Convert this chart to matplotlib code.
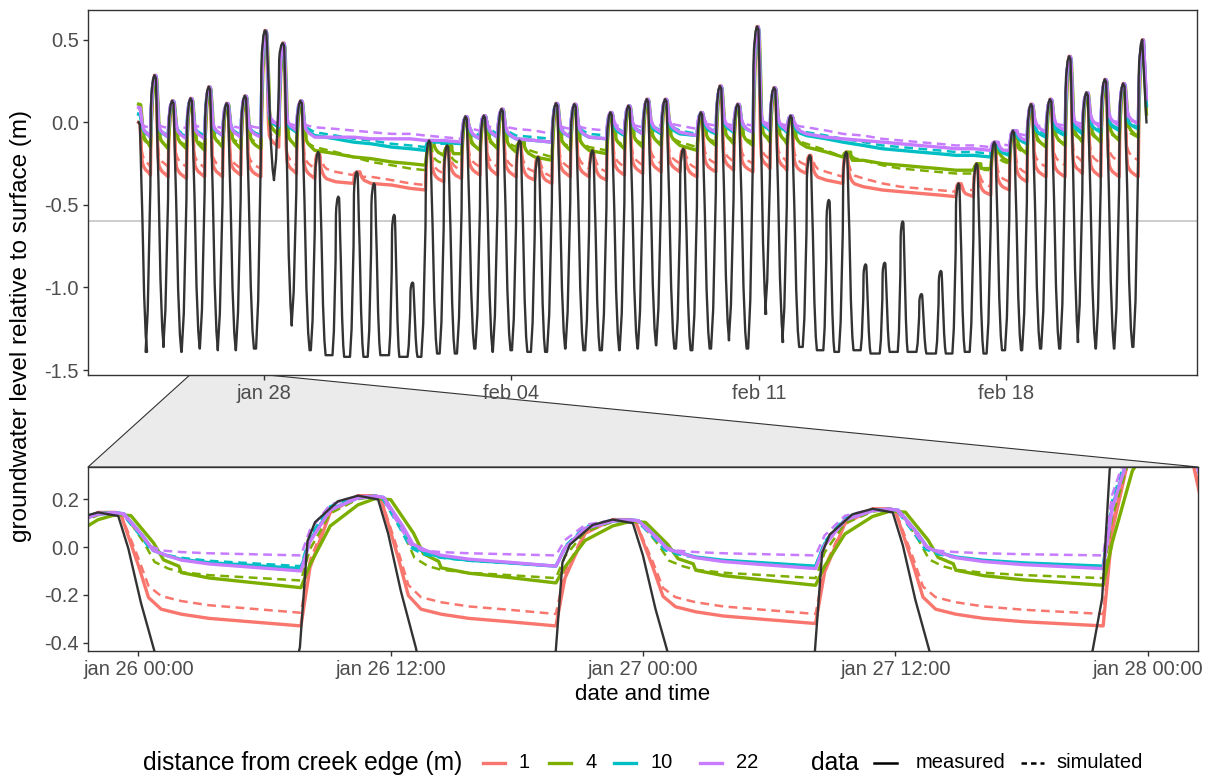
import matplotlib.pyplot as plt
from matplotlib.patches import Polygon

plt.rcParams["font.family"] = ["Liberation Sans", "DejaVu Sans"]

# creek water level (measured, black line)
# time of each high water in days after jan 28 00:00, the peak level and the
# trough that follows it (m relative to surface). first entry = start of record
peak_t = [-3.55, -3.10, -2.60, -2.08, -1.565, -1.06, -0.545, 0.025, 0.53, 1.03,
          1.53, 2.10, 2.62, 3.11, 3.68, 4.20, 4.67, 5.18, 5.70, 6.22,
          6.72, 7.23, 7.75, 8.26, 8.78, 9.29, 9.80, 10.31, 10.83, 11.35,
          11.86, 12.36, 12.90, 13.40, 13.95, 14.43, 14.90, 15.44, 15.98, 16.47,
          17.02, 17.56, 18.07, 18.60, 19.15, 19.65, 20.16, 20.66, 21.19, 21.70,
          22.24, 22.78, 23.27, 23.79, 24.31, 24.85]
peak_v = [0.00, 0.285, 0.13, 0.145, 0.215, 0.115, 0.16, 0.556, 0.48, 0.13,
          -0.18, -0.45, -0.30, -0.37, -0.56, -0.97, -0.11, -0.14, 0.035, 0.04,
          0.08, -0.11, -0.21, 0.115, 0.11, -0.17, 0.06, 0.10, 0.14, 0.14,
          -0.16, 0.06, 0.22, 0.11, 0.58, 0.21, 0.04, -0.20, -0.47, -0.18,
          -0.86, -0.85, -0.60, -1.04, -0.90, -0.37, -0.25, -0.12, -0.05, 0.11,
          0.14, 0.40, 0.18, 0.26, 0.235, 0.50]
low_v = [-1.39, -1.36, -1.39, -1.37, -1.38, -1.38, -1.37, -0.35, -1.23, -1.38,
         -1.41, -1.42, -1.42, -1.41, -1.42, -1.42, -1.40, -1.40, -1.37, -1.39,
         -1.38, -1.39, -1.39, -1.37, -1.38, -1.38, -1.38, -1.37, -1.35, -1.37,
         -1.38, -1.37, -1.32, -1.37, -1.16, -1.33, -1.36, -1.38, -1.39, -1.38,
         -1.40, -1.39, -1.39, -1.40, -1.40, -1.39, -1.40, -1.38, -1.38, -1.37,
         -1.37, -1.33, -1.37, -1.37, -1.36]
end_t = 24.97
end_v = 0.0
surface_line = -0.6

# groundwater: level reached just before the next flooding tide, per distance
distances = ["1", "4", "10", "22"]
colors = ["#F8766D", "#7CAE00", "#00BFC4", "#C77CFF"]

floor_meas_1 = [-0.32, -0.33, -0.34, -0.33, -0.33, -0.32, -0.33, -0.15, -0.31, -0.34,
                -0.36, -0.37, -0.37, -0.38, -0.40, -0.41, -0.36, -0.34, -0.32, -0.32,
                -0.33, -0.35, -0.37, -0.33, -0.33, -0.35, -0.32, -0.31, -0.30, -0.30,
                -0.33, -0.30, -0.29, -0.30, -0.28, -0.29, -0.31, -0.35, -0.37, -0.39,
                -0.41, -0.42, -0.43, -0.44, -0.45, -0.45, -0.44, -0.41, -0.36, -0.33,
                -0.33, -0.31, -0.33, -0.33, -0.33]
floor_meas_4 = [-0.15, -0.16, -0.16, -0.17, -0.15, -0.16, -0.16, -0.08, -0.15, -0.17,
                -0.19, -0.21, -0.22, -0.24, -0.25, -0.26, -0.20, -0.19, -0.17, -0.16,
                -0.18, -0.21, -0.23, -0.17, -0.17, -0.19, -0.16, -0.15, -0.14, -0.14,
                -0.17, -0.14, -0.13, -0.14, -0.12, -0.13, -0.15, -0.18, -0.21, -0.23,
                -0.25, -0.26, -0.27, -0.28, -0.29, -0.29, -0.28, -0.24, -0.19, -0.15,
                -0.14, -0.12, -0.12, -0.11, -0.09]
floor_meas_10 = [-0.09, -0.09, -0.09, -0.09, -0.08, -0.08, -0.08, -0.03, -0.06, -0.08,
                 -0.10, -0.12, -0.13, -0.15, -0.16, -0.17, -0.12, -0.13, -0.10, -0.09,
                 -0.10, -0.11, -0.12, -0.09, -0.09, -0.10, -0.08, -0.07, -0.07, -0.07,
                 -0.08, -0.07, -0.06, -0.06, -0.05, -0.06, -0.08, -0.10, -0.12, -0.14,
                 -0.16, -0.17, -0.18, -0.19, -0.20, -0.20, -0.21, -0.20, -0.13, -0.09,
                 -0.08, -0.07, -0.06, -0.05, -0.04]
floor_meas_22 = [-0.09, -0.09, -0.10, -0.10, -0.08, -0.09, -0.09, -0.02, -0.05, -0.09,
                 -0.09, -0.09, -0.10, -0.10, -0.10, -0.11, -0.11, -0.12, -0.10, -0.09,
                 -0.10, -0.11, -0.12, -0.09, -0.09, -0.10, -0.07, -0.07, -0.06, -0.06,
                 -0.08, -0.06, -0.05, -0.06, -0.04, -0.05, -0.07, -0.09, -0.10, -0.11,
                 -0.12, -0.13, -0.14, -0.15, -0.16, -0.16, -0.17, -0.17, -0.11, -0.06,
                 -0.05, -0.04, -0.03, -0.02, -0.01]
floor_sim_1 = [-0.27, -0.27, -0.27, -0.275, -0.28, -0.28, -0.28, -0.12, -0.26, -0.28,
               -0.30, -0.32, -0.33, -0.35, -0.37, -0.38, -0.31, -0.29, -0.27, -0.27,
               -0.28, -0.30, -0.33, -0.28, -0.28, -0.30, -0.27, -0.26, -0.25, -0.25,
               -0.28, -0.25, -0.24, -0.25, -0.23, -0.24, -0.26, -0.30, -0.33, -0.34,
               -0.37, -0.39, -0.40, -0.41, -0.42, -0.41, -0.39, -0.36, -0.31, -0.27,
               -0.26, -0.24, -0.25, -0.24, -0.23]
floor_sim_4 = [-0.14, -0.14, -0.14, -0.14, -0.13, -0.13, -0.13, -0.07, -0.13, -0.15,
               -0.18, -0.21, -0.24, -0.26, -0.28, -0.29, -0.25, -0.25, -0.16, -0.15,
               -0.15, -0.18, -0.21, -0.15, -0.15, -0.17, -0.14, -0.13, -0.12, -0.12,
               -0.15, -0.12, -0.11, -0.12, -0.10, -0.11, -0.13, -0.17, -0.21, -0.23,
               -0.26, -0.28, -0.29, -0.30, -0.31, -0.31, -0.29, -0.25, -0.19, -0.14,
               -0.13, -0.11, -0.11, -0.10, -0.09]
floor_sim_10 = [-0.08, -0.08, -0.08, -0.08, -0.08, -0.08, -0.08, -0.03, -0.05, -0.06,
                -0.08, -0.10, -0.11, -0.13, -0.14, -0.15, -0.13, -0.13, -0.08, -0.07,
                -0.08, -0.09, -0.10, -0.07, -0.07, -0.08, -0.06, -0.06, -0.05, -0.05,
                -0.07, -0.05, -0.05, -0.05, -0.04, -0.05, -0.06, -0.08, -0.10, -0.12,
                -0.14, -0.15, -0.16, -0.17, -0.18, -0.18, -0.19, -0.18, -0.12, -0.07,
                -0.06, -0.05, -0.04, -0.04, -0.03]
floor_sim_22 = [-0.035, -0.035, -0.035, -0.035, -0.035, -0.035, -0.035, -0.01, -0.02, -0.03,
                -0.04, -0.05, -0.06, -0.07, -0.07, -0.08, -0.09, -0.10, -0.05, -0.04,
                -0.04, -0.05, -0.07, -0.04, -0.04, -0.05, -0.03, -0.03, -0.02, -0.02,
                -0.04, -0.02, -0.02, -0.02, -0.01, -0.02, -0.03, -0.05, -0.07, -0.08,
                -0.10, -0.11, -0.12, -0.13, -0.14, -0.14, -0.15, -0.14, -0.08, -0.03,
                -0.02, -0.01, -0.01, 0.00, 0.00]

meas_floors = [floor_meas_1, floor_meas_4, floor_meas_10, floor_meas_22]
sim_floors = [floor_sim_1, floor_sim_4, floor_sim_10, floor_sim_22]
meas_start = [0.00, 0.11, 0.05, 0.09]
sim_start = [0.00, 0.08, 0.05, 0.08]
meas_end = [0.10, 0.05, 0.10, 0.14]
sim_end = [0.12, 0.08, 0.12, 0.15]
# drop right after the creek falls dry, and how slowly the well follows the creek
meas_step = [0.07, 0.09, 0.055, 0.065]
sim_step = [0.07, 0.05, 0.05, 0.02]
meas_lag = [0.0, 1.0, 0.3, 0.3]
sim_lag = [0.0, 0.4, 0.1, 0.1]

top_ticks = [0, 7, 14, 21]
top_labels = ["jan 28", "feb 04", "feb 11", "feb 18"]
bot_ticks = [-2, -1.5, -1, -0.5, 0]
bot_labels = ["jan 26 00:00", "jan 26 12:00", "jan 27 00:00", "jan 27 12:00", "jan 28 00:00"]
top_yticks = [-1.5, -1.0, -0.5, 0.0, 0.5]
bot_yticks = [-0.4, -0.2, 0.0, 0.2]
zoom_x = (-2.1, 0.1)


def tide_width(i):
    # spring tides are broad, small neap tides are narrow spikes
    r = peak_v[i] - low_v[min(i, len(low_v) - 1)]
    if i > 0:
        r = max(r, peak_v[i] - low_v[i - 1])
    return min(1.0, max(0.55, r / 1.5))


def creek_line():
    ts, vs = [], []
    n = len(peak_t)
    for i in range(n):
        tc, vp = peak_t[i], peak_v[i]
        w = tide_width(i)
        if i > 0:
            lo = low_v[i - 1]
            r = vp - lo
            ts += [tc - 0.25 * w, tc - 0.19 * w, tc - 0.115 * w, tc - 0.10 * w, tc - 0.085 * w, tc - 0.04 * w]
            vs += [lo, lo + 0.15 * r, lo + 0.6 * r, vp - 0.12 * r, vp - 0.07 * r, vp - 0.015 * r]
        ts.append(tc)
        vs.append(vp)
        if i < n - 1:
            lo = low_v[i]
            r = vp - lo
            ts += [tc + 0.04 * w, tc + 0.06 * w, tc + 0.085 * w, tc + 0.115 * w, tc + 0.17 * w,
                   tc + 0.22 * w, tc + 0.26 * w]
            vs += [vp - 0.01 * r, vp - 0.1 * r, vp - 0.25 * r, vp - 0.4 * r, vp - 0.75 * r,
                   vp - 0.93 * r, lo]
    ts.append(end_t)
    vs.append(end_v)
    return ts, vs


def ground_line(floors, start_v, final_v, step, lag):
    ts, vs = [], []
    n = len(peak_t)
    for i in range(n):
        tc = peak_t[i]
        w = tide_width(i)
        if i == 0:
            top = start_v
            flooded = True
            ts.append(tc)
            vs.append(top)
        else:
            vp = peak_v[i]
            prev = floors[i - 1]
            ts.append(tc - 0.113 * w)
            vs.append(prev)
            flooded = vp > prev
            if flooded:
                d = vp - prev
                ts += [tc - 0.095 * w, tc - 0.055 * w, tc, tc + 0.035 * w]
                vs += [prev + (0.45 - 0.2 * lag) * d, prev + (0.87 - 0.2 * lag) * d,
                       vp - 0.1 * lag * d, vp - 0.03 * lag * d]
                top = vs[-1]
        if i == n - 1:
            break
        if flooded:
            f = floors[i]
            knee = min(f + step, top)
            ts += [tc + (0.045 + 0.02 * lag) * w, tc + (0.08 + 0.03 * lag) * w,
                   tc + (0.10 + 0.03 * lag) * w, tc + (0.125 + 0.035 * lag) * w,
                   tc + 0.165 * w, tc + 0.22 * w, tc + 0.30 * w]
            vs += [top - 0.02 * (top - knee), top - 0.55 * (top - knee), top - 0.88 * (top - knee),
                   knee, max(f, knee - 0.3 * step), max(f, knee - 0.55 * step),
                   max(f, knee - 0.75 * step)]
    ts.append(end_t)
    vs.append(final_v)
    return ts, vs


W, H = 1207, 778
fig = plt.figure(figsize=(W / 100, H / 100), dpi=100)


def px_axes(left, top, right, bottom):
    return fig.add_axes([left / W, 1 - bottom / H, (right - left) / W, (bottom - top) / H])


ax_top = px_axes(88, 10, 1197, 375)
ax_bot = px_axes(88, 467, 1198, 651)

creek_t, creek_v = creek_line()
for ax in (ax_top, ax_bot):
    ax.axhline(surface_line, color="#BEBEBE", lw=1.1)
    for k in range(4):
        mt, mv = ground_line(meas_floors[k], meas_start[k], meas_end[k], meas_step[k], meas_lag[k])
        st, sv = ground_line(sim_floors[k], sim_start[k], sim_end[k], sim_step[k], sim_lag[k])
        ax.plot(mt, mv, color=colors[k], lw=2.4, solid_joinstyle="round")
        ax.plot(st, sv, color=colors[k], lw=1.8, dashes=(3.5, 2.2))
    ax.plot(creek_t, creek_v, color="#333333", lw=1.7, solid_joinstyle="round")
    for s in ax.spines.values():
        s.set_color("#333333")
        s.set_linewidth(1.0)
    ax.tick_params(length=3.5, width=1.0, color="#333333", labelsize=14.5,
                   labelcolor="#4D4D4D", pad=3)

ax_top.set_xlim(-4.98, 26.40)
ax_top.set_ylim(-1.53, 0.68)
ax_top.set_xticks(top_ticks, top_labels)
ax_top.set_yticks(top_yticks, ["%.1f" % v for v in top_yticks])

ax_bot.set_xlim(*zoom_x)
ax_bot.set_ylim(-0.435, 0.335)
ax_bot.set_xticks(bot_ticks, bot_labels)
ax_bot.set_yticks(bot_yticks, ["%.1f" % v for v in bot_yticks])

# zoom connector between the panels
to_fig = fig.transFigure.inverted()
y0 = ax_top.get_ylim()[0]
pts = [to_fig.transform(ax_top.transData.transform((zoom_x[0], y0))),
       to_fig.transform(ax_top.transData.transform((zoom_x[1], y0))),
       to_fig.transform(ax_bot.transAxes.transform((1, 1))),
       to_fig.transform(ax_bot.transAxes.transform((0, 1)))]
fig.add_artist(Polygon(pts, closed=True, transform=fig.transFigure, facecolor="#EBEBEB",
                       edgecolor="#333333", lw=0.8, zorder=-1))

fig.text(21 / W, 1 - 326 / H, "groundwater level relative to surface (m)", rotation=90,
         ha="center", va="center", fontsize=17.5)
fig.text(643 / W, 1 - 695 / H, "date and time", ha="center", va="center", fontsize=16)

# legend (ggplot style, titles on the left)
lax = fig.add_axes([0, 0, 1, 36 / H])
lax.set_xlim(0, W)
lax.set_ylim(0, 36)
lax.axis("off")
yc = 15
lax.text(143, yc, "distance from creek edge (m)", fontsize=17.7, va="center", ha="left")
key_x = [483, 549, 614, 700]
for k in range(4):
    lax.plot([key_x[k], key_x[k] + 22], [yc, yc], color=colors[k], lw=2.4)
    lax.text(key_x[k] + 36, yc, distances[k], fontsize=14.5, va="center", ha="left")
lax.text(811, yc, "data", fontsize=17.7, va="center", ha="left")
lax.plot([874, 897], [yc, yc], color="black", lw=1.8)
lax.text(916, yc, "measured", fontsize=14.5, va="center", ha="left")
lax.plot([1021, 1044], [yc, yc], color="black", lw=1.8, dashes=(2.2, 1.6))
lax.text(1056, yc, "simulated", fontsize=14.5, va="center", ha="left")

fig.savefig("out.png", dpi=100)
